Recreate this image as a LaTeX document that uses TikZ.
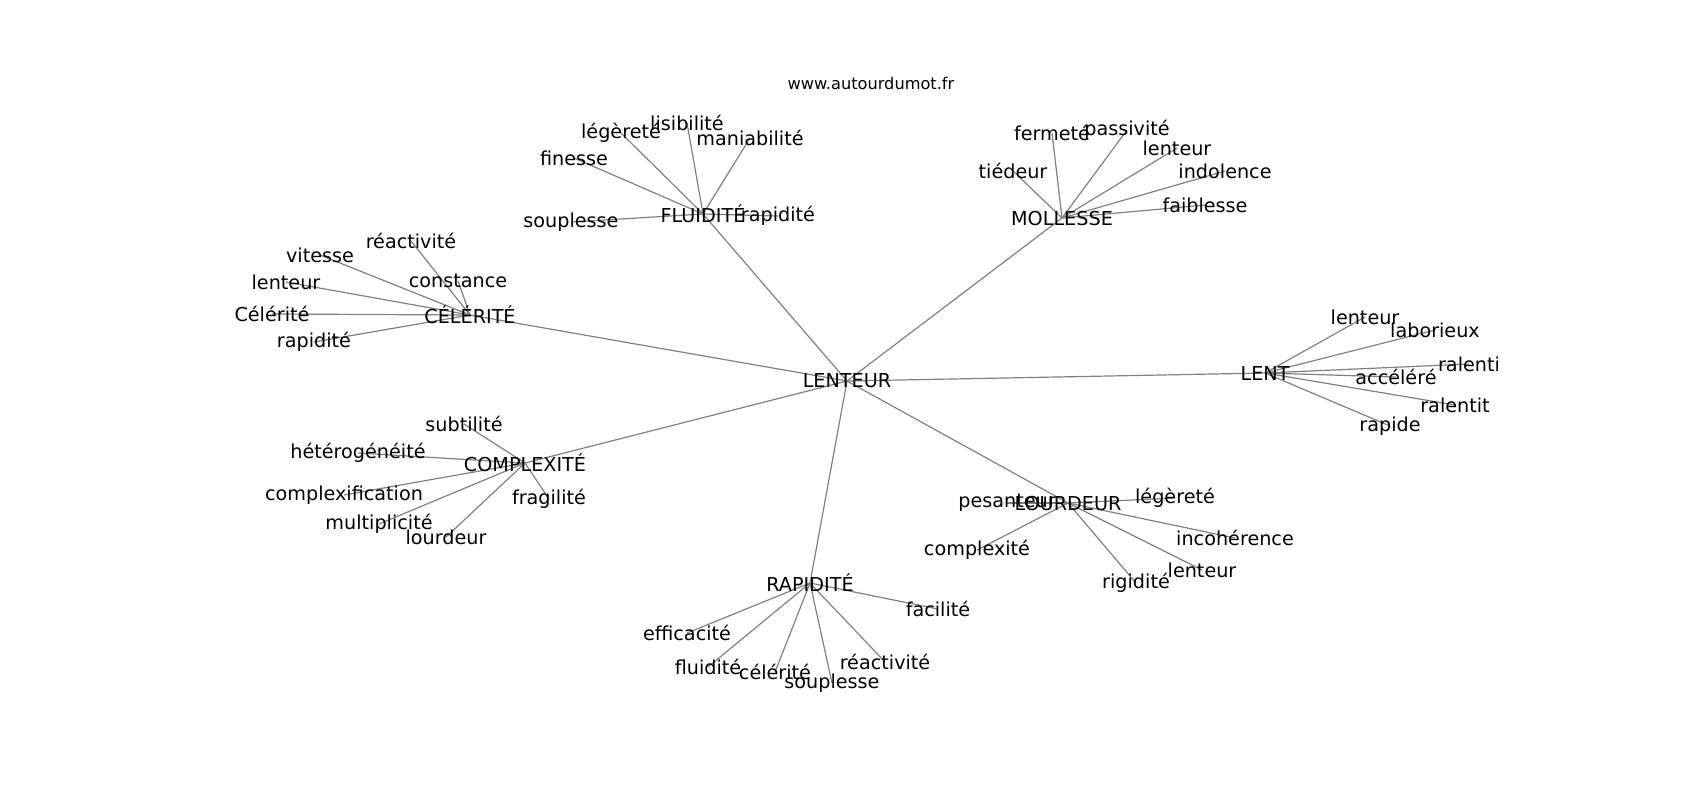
\documentclass[tikz,border=0pt]{standalone}
\usepackage{fontspec}
\setmainfont{DejaVu Sans}
\usetikzlibrary{backgrounds}
\begin{document}
\begin{tikzpicture}[x=0.5pt,y=-0.5pt,
    word/.style={inner sep=0pt,font=\fontsize{9.6}{11}\selectfont},
    link/.style={draw=gray,line width=0.6pt}]
    \useasboundingbox (0,0) rectangle (1700,800);
    \node[inner sep=0pt,font=\fontsize{8.1}{10}\selectfont] (site) at (871,83) {www.autourdumot.fr};
    % centre
    \node[word] (lenteur) at (847,381) {LENTEUR};
    % FLUIDITE
    \node[word] (fluidite) at (703,214) {FLUIDITÉ};
    \node[word] (fluA) at (621,133) {légèreté};
    \node[word] (fluB) at (687,123) {lisibilité};
    \node[word] (fluC) at (750,138) {maniabilité};
    \node[word] (fluD) at (574,158) {finesse};
    \node[word] (fluE) at (571,222) {souplesse};
    \node[word] (fluF) at (778,216) {rapidité};
    % CELERITE
    \node[word] (celerite) at (470,315) {CÉLÉRITÉ};
    \node[word] (celA) at (411,241) {réactivité};
    \node[word] (celB) at (320,255) {vitesse};
    \node[word] (celC) at (458,281) {constance};
    \node[word] (celD) at (286,282) {lenteur};
    \node[word] (celE) at (272,314) {Célérité};
    \node[word] (celF) at (314,342) {rapidité};
    % MOLLESSE
    \node[word] (mollesse) at (1062,218) {MOLLESSE};
    \node[word] (molA) at (1052,133) {fermeté};
    \node[word] (molB) at (1127,130) {passivité};
    \node[word] (molC) at (1177,148) {lenteur};
    \node[word] (molD) at (1013,171) {tiédeur};
    \node[word] (molE) at (1225,171) {indolence};
    \node[word] (molF) at (1205,205) {faiblesse};
    % LENT
    \node[word] (lent) at (1265,373) {LENT};
    \node[word] (lntA) at (1365,317) {lenteur};
    \node[word] (lntB) at (1435,330) {laborieux};
    \node[word] (lntC) at (1469,364) {ralenti};
    \node[word] (lntD) at (1396,377) {accéléré};
    \node[word] (lntE) at (1455,405) {ralentit};
    \node[word] (lntF) at (1390,426) {rapide};
    % COMPLEXITE
    \node[word] (complexite) at (525,463) {COMPLEXITÉ};
    \node[word] (cpxA) at (464,424) {subtilité};
    \node[word] (cpxB) at (358,453) {hétérogénéité};
    \node[word] (cpxC) at (344,495) {complexification};
    \node[word] (cpxD) at (549,499) {fragilité};
    \node[word] (cpxE) at (379,524) {multiplicité};
    \node[word] (cpxF) at (446,537) {lourdeur};
    % LOURDEUR
    \node[word] (lourdeur) at (1068,503) {LOURDEUR};
    \node[word] (lrdA) at (1007,503) {pesanteur};
    \node[word] (lrdB) at (1175,498) {légèreté};
    \node[word] (lrdC) at (1235,538) {incohérence};
    \node[word] (lrdD) at (977,550) {complexité};
    \node[word] (lrdE) at (1202,570) {lenteur};
    \node[word] (lrdF) at (1136,583) {rigidité};
    % RAPIDITE
    \node[word] (rapidite) at (810,583) {RAPIDITÉ};
    \node[word] (rapA) at (938,609) {facilité};
    \node[word] (rapB) at (687,633) {efficacité};
    \node[word] (rapC) at (708,667) {fluidité};
    \node[word] (rapD) at (775,672) {célérité};
    \node[word] (rapE) at (832,683) {souplesse};
    \node[word] (rapF) at (885,662) {réactivité};
    % edges
    \begin{pgfonlayer}{background}
        \foreach \hub in {fluidite,celerite,mollesse,lent,complexite,lourdeur,rapidite}
            \draw[link] (lenteur.center) -- (\hub.center);
        \foreach \hub/\pre in {fluidite/flu,celerite/cel,mollesse/mol,lent/lnt,complexite/cpx,lourdeur/lrd,rapidite/rap}
            \foreach \k in {A,B,C,D,E,F}
                \draw[link] (\hub.center) -- (\pre\k.center);
    \end{pgfonlayer}
\end{tikzpicture}
\end{document}
